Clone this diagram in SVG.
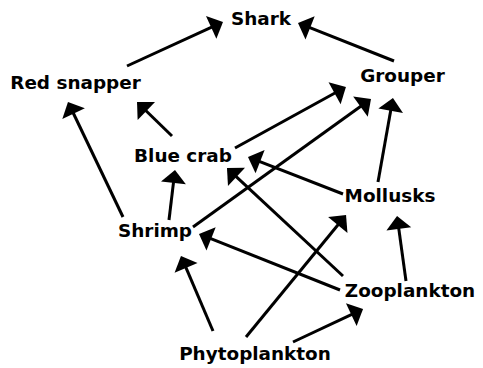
<svg xmlns="http://www.w3.org/2000/svg" width="483" height="368" viewBox="0 0 483 368">
<style>
.lbl{font-family:"DejaVu Sans",sans-serif;font-weight:bold;font-size:18.4px;fill:#000;text-anchor:middle}
.e{stroke:#000;stroke-width:3;fill:none;marker-end:url(#ah)}
</style>
<defs>
<marker id="ah" markerUnits="userSpaceOnUse" markerWidth="30" markerHeight="30" viewBox="-15 -15 30 30" refX="0" refY="0" orient="auto" overflow="visible">
<path d="M-3,-12.5 L10,0 L-3,12.5 Z" fill="#000"/>
</marker>
</defs>
<rect width="483" height="368" fill="#fff"/>
<g id="connectors">
<line class="e" x1="127" y1="66" x2="213.9" y2="26.2"/>
<line class="e" x1="394" y1="61" x2="307.3" y2="26.7"/>
<line class="e" x1="172" y1="136" x2="144.2" y2="109"/>
<line class="e" x1="235" y1="148" x2="337.2" y2="91.8"/>
<line class="e" x1="193" y1="227" x2="362.9" y2="104.8"/>
<line class="e" x1="378" y1="182" x2="391.2" y2="107.8"/>
<line class="e" x1="343" y1="194" x2="257.3" y2="160.6"/>
<line class="e" x1="343" y1="276" x2="234.3" y2="174.8"/>
<line class="e" x1="123" y1="217" x2="72.3" y2="111"/>
<line class="e" x1="169" y1="220" x2="173.8" y2="179.9"/>
<line class="e" x1="340" y1="290" x2="208.3" y2="237.7"/>
<line class="e" x1="213" y1="331" x2="184.9" y2="265.2"/>
<line class="e" x1="246" y1="337" x2="339.7" y2="222.7"/>
<line class="e" x1="293" y1="342" x2="354" y2="313.3"/>
<line class="e" x1="406" y1="281" x2="398.4" y2="225.9"/>
</g>
<g id="shark"><text class="lbl" x="261" y="25">Shark</text></g>
<g id="red-snapper"><text class="lbl" x="75.5" y="89">Red snapper</text></g>
<g id="grouper"><text class="lbl" x="402.5" y="82">Grouper</text></g>
<g id="blue-crab"><text class="lbl" x="183" y="162">Blue crab</text></g>
<g id="mollusks"><text class="lbl" x="390" y="202">Mollusks</text></g>
<g id="shrimp"><text class="lbl" x="155" y="237">Shrimp</text></g>
<g id="zooplankton"><text class="lbl" x="410" y="297">Zooplankton</text></g>
<g id="phytoplankton"><text class="lbl" x="255" y="360">Phytoplankton</text></g>
</svg>
